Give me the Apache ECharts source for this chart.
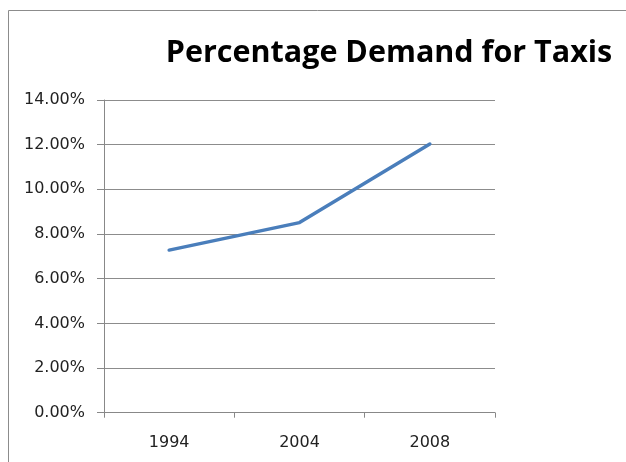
<!DOCTYPE html>
<html>
<head>
<meta charset="utf-8">
<script src="https://cdn.jsdelivr.net/npm/echarts@6/dist/echarts.min.js"></script>
<style>
  html, body { margin: 0; padding: 0; background: #fff; }
  #chart { width: 626px; height: 462px; }
</style>
</head>
<body>
<div id="chart"></div>
<script>
// Years on the category axis
const years = ['1994', '2004', '2008'];
// Share of demand for taxis, in percent
const demandPct = [7.28, 8.51, 12.03];
// Value axis range and step, in percent
const yMin = 0;
const yMax = 14;
const yStep = 2;

const chart = echarts.init(document.getElementById('chart'), null, { renderer: 'canvas' });

chart.setOption({
  animation: false,
  backgroundColor: '#ffffff',
  graphic: [{
    type: 'rect',
    shape: { x: 8.5, y: 10.5, width: 700, height: 600 },
    style: { fill: 'none', stroke: '#8c8c8c', lineWidth: 1 },
    silent: true
  }],
  title: {
    text: 'Percentage Demand for Taxis',
    left: 384,
    top: 33,
    textAlign: 'center',
    textStyle: {
      fontFamily: 'Open Sans',
      fontWeight: 'bold',
      fontSize: 30.5,
      color: '#000000'
    }
  },
  grid: { left: 104, right: 131, top: 100, bottom: 49.3 },
  xAxis: {
    type: 'category',
    data: years,
    boundaryGap: true,
    axisLine: { lineStyle: { color: '#888888', width: 1 } },
    axisTick: { show: true, length: 5, interval: 0, lineStyle: { color: '#888888' } },
    axisLabel: {
      margin: 22,
      fontFamily: 'DejaVu Sans',
      fontSize: 16,
      color: '#222222'
    },
    splitLine: { show: false }
  },
  yAxis: {
    type: 'value',
    min: yMin,
    max: yMax,
    interval: yStep,
    axisLine: { show: true, lineStyle: { color: '#888888', width: 1 } },
    axisTick: { show: true, length: 7, lineStyle: { color: '#888888' } },
    axisLabel: {
      margin: 19,
      fontFamily: 'DejaVu Sans',
      fontSize: 16,
      color: '#222222',
      formatter: v => v.toFixed(2) + '%'
    },
    splitLine: { show: true, lineStyle: { color: '#8c8c8c', width: 1 } }
  },
  series: [{
    type: 'line',
    data: demandPct,
    showSymbol: false,
    symbol: 'none',
    smooth: false,
    lineStyle: { color: '#4a7ebb', width: 3.5, cap: 'round', join: 'round' }
  }]
});
</script>
</body>
</html>
